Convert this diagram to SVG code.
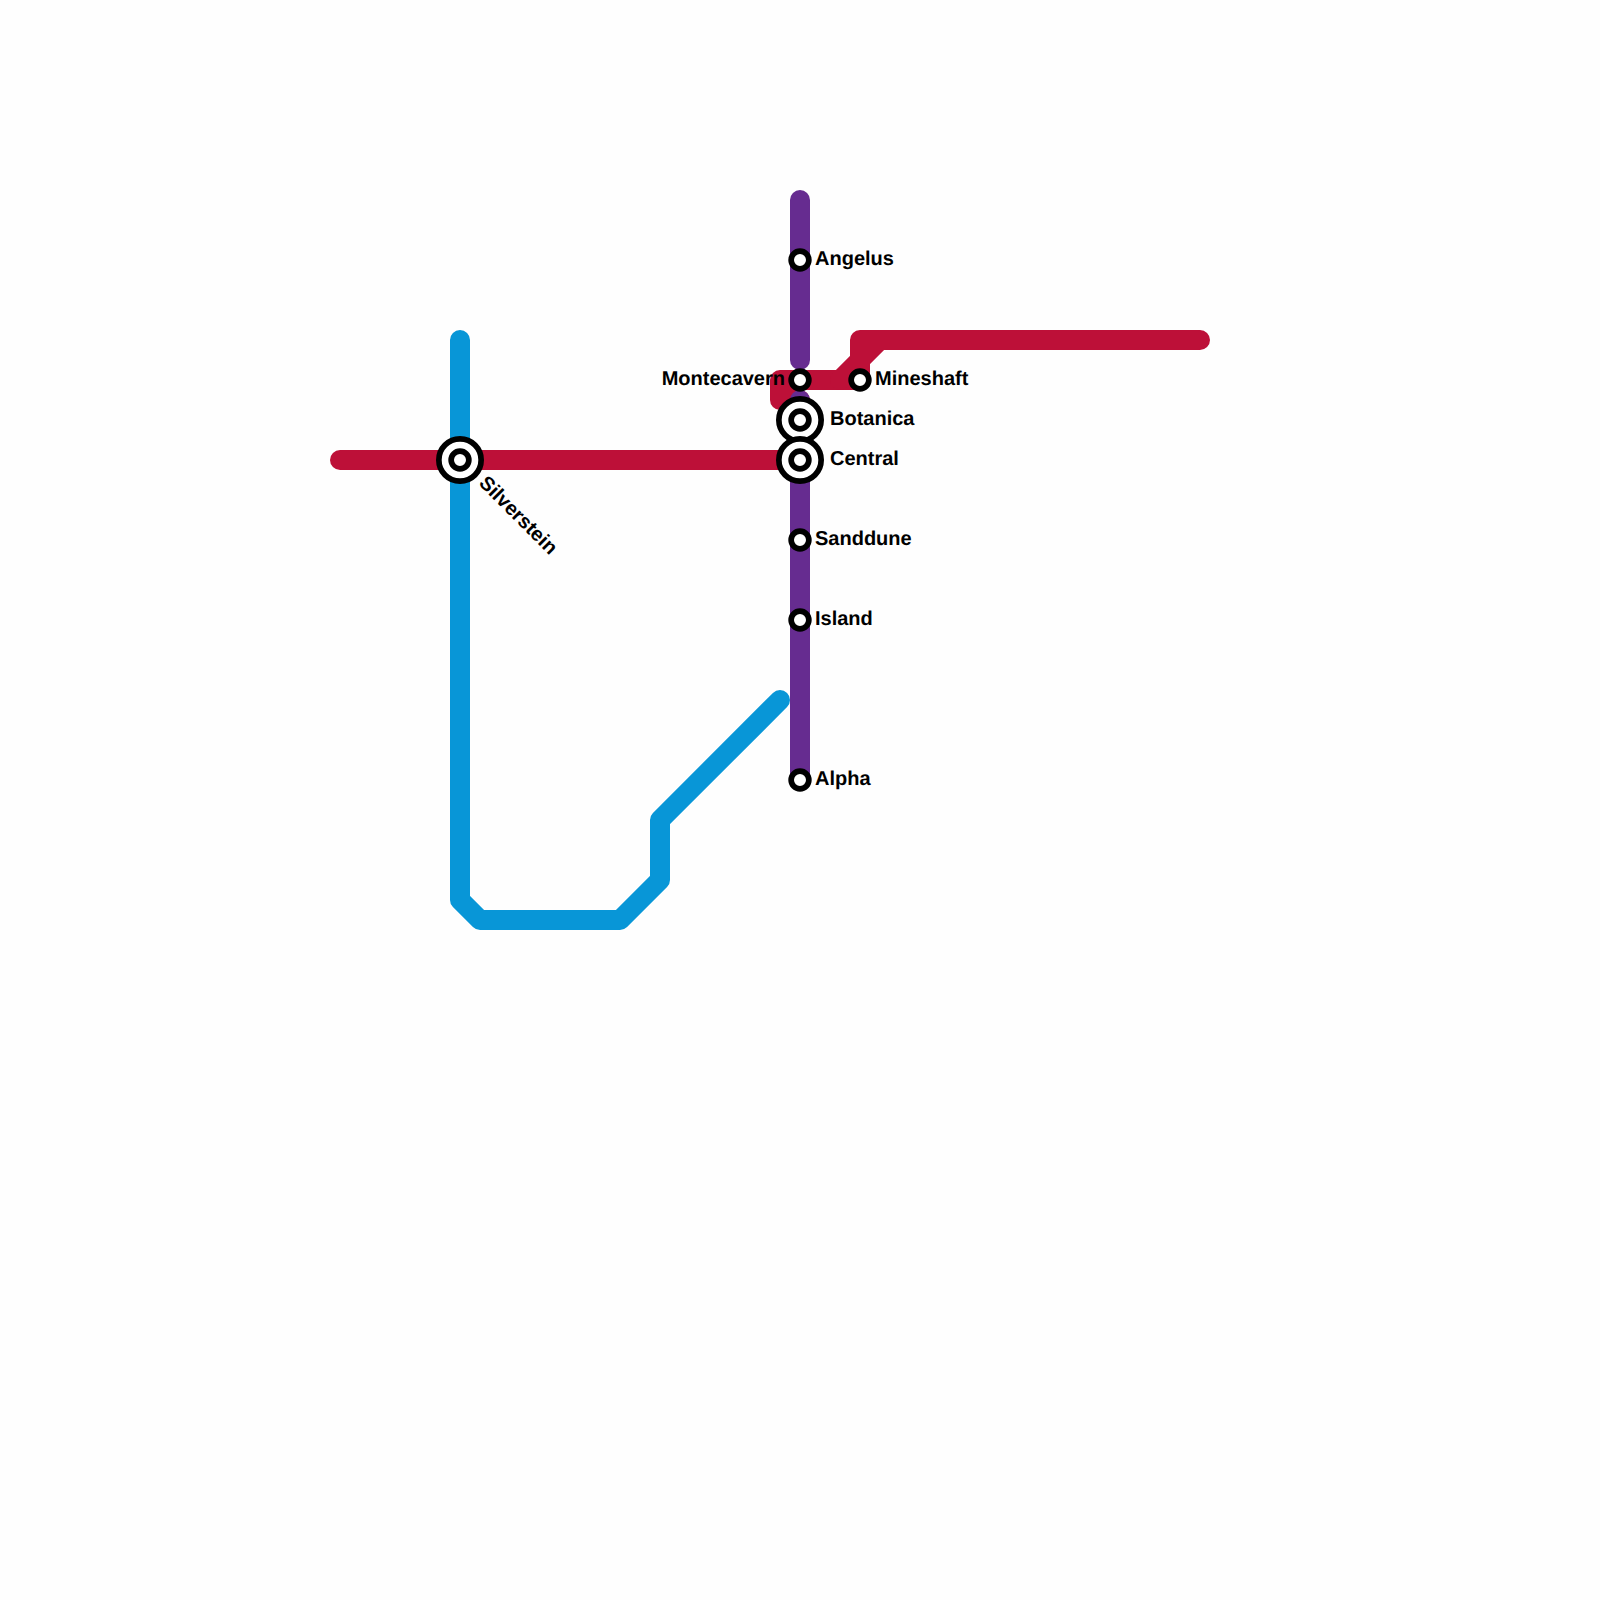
<svg xmlns="http://www.w3.org/2000/svg" width="1600" height="1600" viewBox="0 0 1600 1600">
<style>
.l{fill:none;stroke-width:20;stroke-linecap:round;stroke-linejoin:round}
.p{stroke:#662c90}.r{stroke:#bd1038}.b{stroke:#0896d7}
.s{fill:#fff;stroke:#000;stroke-width:5.7}
text{font-family:"Liberation Sans",Arial,sans-serif;font-weight:700;font-size:20px;fill:#000;text-rendering:geometricPrecision;opacity:.999}
</style>
<rect width="1600" height="1600" fill="#fefefe"/>
<g id="connectors">
<path class="l b" d="M460 340V900L480 920H620L660 880V820L780 700"/>
<path class="l r" d="M340 460H800"/>
<path class="l r" d="M800 400H780V380H860"/>
<path class="l r" d="M840 380L880 340"/>
<path class="l r" d="M860 380V340H1200"/>
<path class="l p" d="M800 200V360"/>
<path class="l p" d="M800 400V780"/>
</g>
<g id="angelus"><circle class="s" cx="800" cy="260" r="8.85"/><text x="815" y="265">Angelus</text></g>
<g id="montecavern"><circle class="s" cx="800" cy="380" r="8.85"/><text x="785" y="385" text-anchor="end">Montecavern</text></g>
<g id="mineshaft"><circle class="s" cx="860" cy="380" r="8.85"/><text x="875" y="385">Mineshaft</text></g>
<g id="botanica"><circle class="s" cx="800" cy="420" r="21.15"/><circle class="s" cx="800" cy="420" r="8.85"/><text x="830" y="425">Botanica</text></g>
<g id="central"><circle class="s" cx="800" cy="460" r="21.15"/><circle class="s" cx="800" cy="460" r="8.85"/><text x="830" y="465">Central</text></g>
<g id="silverstein"><circle class="s" cx="460" cy="460" r="21.15"/><circle class="s" cx="460" cy="460" r="8.85"/><text transform="translate(478 484) rotate(45)">Silverstein</text></g>
<g id="sanddune"><circle class="s" cx="800" cy="540" r="8.85"/><text x="815" y="545">Sanddune</text></g>
<g id="island"><circle class="s" cx="800" cy="620" r="8.85"/><text x="815" y="625">Island</text></g>
<g id="alpha"><circle class="s" cx="800" cy="780" r="8.85"/><text x="815" y="785">Alpha</text></g>
</svg>
